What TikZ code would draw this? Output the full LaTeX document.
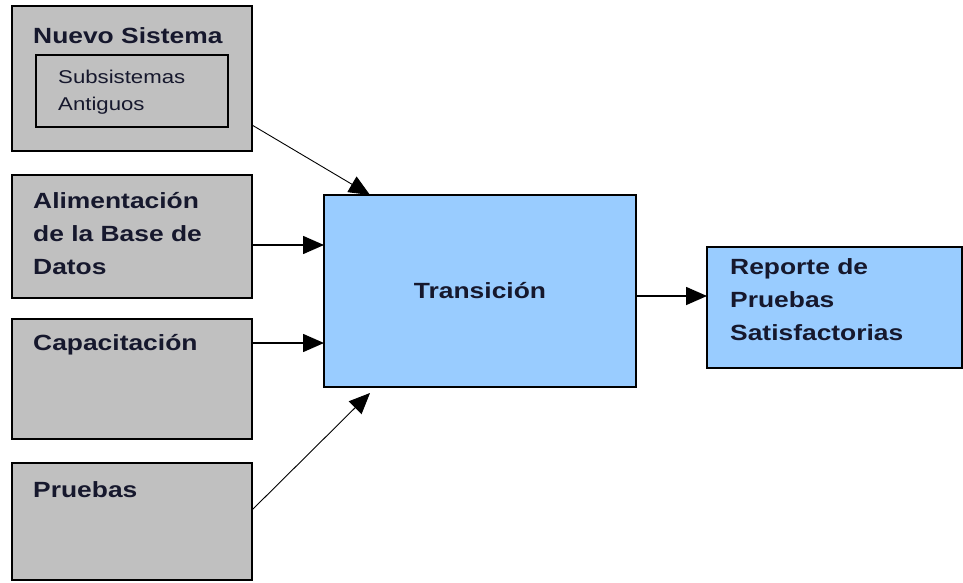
\documentclass[tikz,border=0pt]{standalone}
\usepackage{fontspec}
\setmainfont{Liberation Sans}[FakeStretch=1.2]
\usetikzlibrary{arrows.meta,calc,positioning}
\definecolor{gris}{RGB}{192,192,192}
\definecolor{celeste}{RGB}{153,204,255}
\definecolor{tinta}{RGB}{22,24,45}
\tikzset{
  caja/.style={draw=black,line width=1.6pt,anchor=north west,inner sep=0pt,outer sep=0pt},
  rotulo/.style={anchor=north west,align=left,inner sep=0pt,text=tinta,
    font=\fontsize{22}{33}\selectfont\bfseries},
  flecha/.style={-{Triangle[length=21pt,width=18pt]},line width=1.6pt},
}
\begin{document}
\begin{tikzpicture}[x=1pt,y=-1pt]
\useasboundingbox (0,0) rectangle (963,583);
% entradas
\foreach \n/\y/\h in {nuevo/6/145,alim/175/123,capac/319/120,prueb/463/117}{
  \node[caja,fill=gris,minimum width=240pt,minimum height=\h pt] (\n) at (12,\y) {};
}
\node[caja,fill=gris,line width=1.4pt,minimum width=192pt,minimum height=72pt] (subs) at (36,55) {};
\node[rotulo] (tnuevo) at (33,27) {Nuevo Sistema};
\node[rotulo,font=\fontsize{18.5}{27}\selectfont] (tsubs) at (58,70) {Subsistemas\\Antiguos};
\node[rotulo] (talim) at (33,192) {Alimentación\\de la Base de\\Datos};
\node[rotulo] (tcapac) at (33,334) {Capacitación};
\node[rotulo] (tprueb) at (33,481) {Pruebas};
% transicion y salida
\node[caja,fill=celeste,minimum width=312pt,minimum height=192pt,text=tinta,
  font=\fontsize{22}{33}\selectfont\bfseries] (trans) at (324,195) {Transición};
\node[caja,fill=celeste,minimum width=255pt,minimum height=121pt] (rep) at (707,247) {};
\node[rotulo] (trep) at (730,258) {Reporte de\\Pruebas\\Satisfactorias};
% flechas
\draw[flecha,line width=0.9pt] ($(nuevo.south east)+(0,-26)$) -- ($(trans.north west)+(46,0)$);
\draw[flecha] ($(alim.south east)+(0,-53)$) -- ($(trans.north west)+(0,50)$);
\draw[flecha] ($(capac.north east)+(0,24)$) -- ($(trans.north west)+(0,148)$);
\draw[flecha,line width=0.9pt] ($(prueb.north east)+(0,47)$) -- ($(trans.south west)+(46,6)$);
\draw[flecha] ($(trans.north east)+(0,101)$) -- ($(rep.north west)+(0,49)$);
\end{tikzpicture}
\end{document}
